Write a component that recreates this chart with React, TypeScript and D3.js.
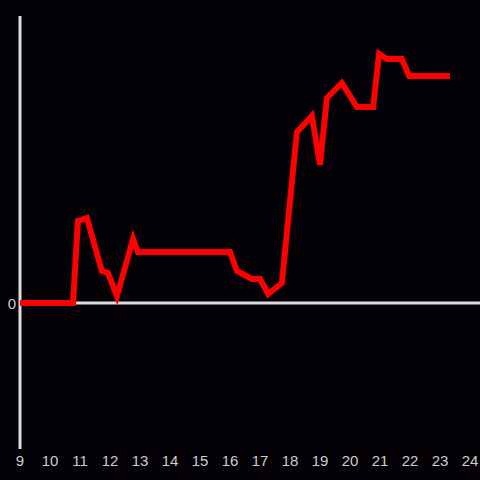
import React from "react";
import * as d3 from "d3";

const xs = [9.0, 10.77, 10.93, 11.23, 11.73, 11.93, 12.23, 12.77, 12.93, 16.0, 16.23, 16.73, 17.0, 17.27, 17.73, 18.23, 18.73, 19.0, 19.23, 19.73, 20.23, 20.77, 20.97, 21.23, 21.73, 21.97, 23.33];
const ys = [0, 0, 82, 85, 32, 30, 7, 64, 51, 51, 32, 24, 24, 9, 20, 171, 187, 138, 205, 220, 196, 196, 249, 244, 244, 227, 227];
const xTicks = [9, 10, 11, 12, 13, 14, 15, 16, 17, 18, 19, 20, 21, 22, 23, 24];
const yTicks = [0];

export default function App() {
  const W = 480, H = 480;
  const x = d3.scaleLinear().domain([9, 24]).range([20, 470]);
  const y = d3.scaleLinear().domain([-145, 287]).range([448, 16]);
  const data = xs.map((v, i) => [v, ys[i]] as [number, number]);
  const line = d3.line<[number, number]>().x(d => x(d[0])).y(d => y(d[1]));
  return (
    <svg width={W} height={H} style={{ position: "absolute", left: 0, top: 0, display: "block" }}>
      <rect x={0} y={0} width={W} height={H} fill="#040206" />
      <line x1={20} x2={20} y1={16} y2={449} stroke="#dddddd" strokeWidth={3} />
      <line x1={20} x2={480} y1={y(0)} y2={y(0)} stroke="#dddddd" strokeWidth={3} />
      {yTicks.map(t => (
        <text key={t} x={16} y={y(t) + 1} dy="0.35em" textAnchor="end" fill="#cccccc" fontSize={15} fontFamily="Liberation Sans, Arial, sans-serif">{t}</text>
      ))}
      {xTicks.map(t => (
        <text key={t} x={x(t)} y={461} dy="0.35em" textAnchor="middle" fill="#cccccc" fontSize={15} fontFamily="Liberation Sans, Arial, sans-serif">{t}</text>
      ))}
      <path d={line(data) ?? ""} fill="none" stroke="#ff0000" strokeWidth={6} strokeLinejoin="miter" strokeLinecap="butt" />
    </svg>
  );
}
